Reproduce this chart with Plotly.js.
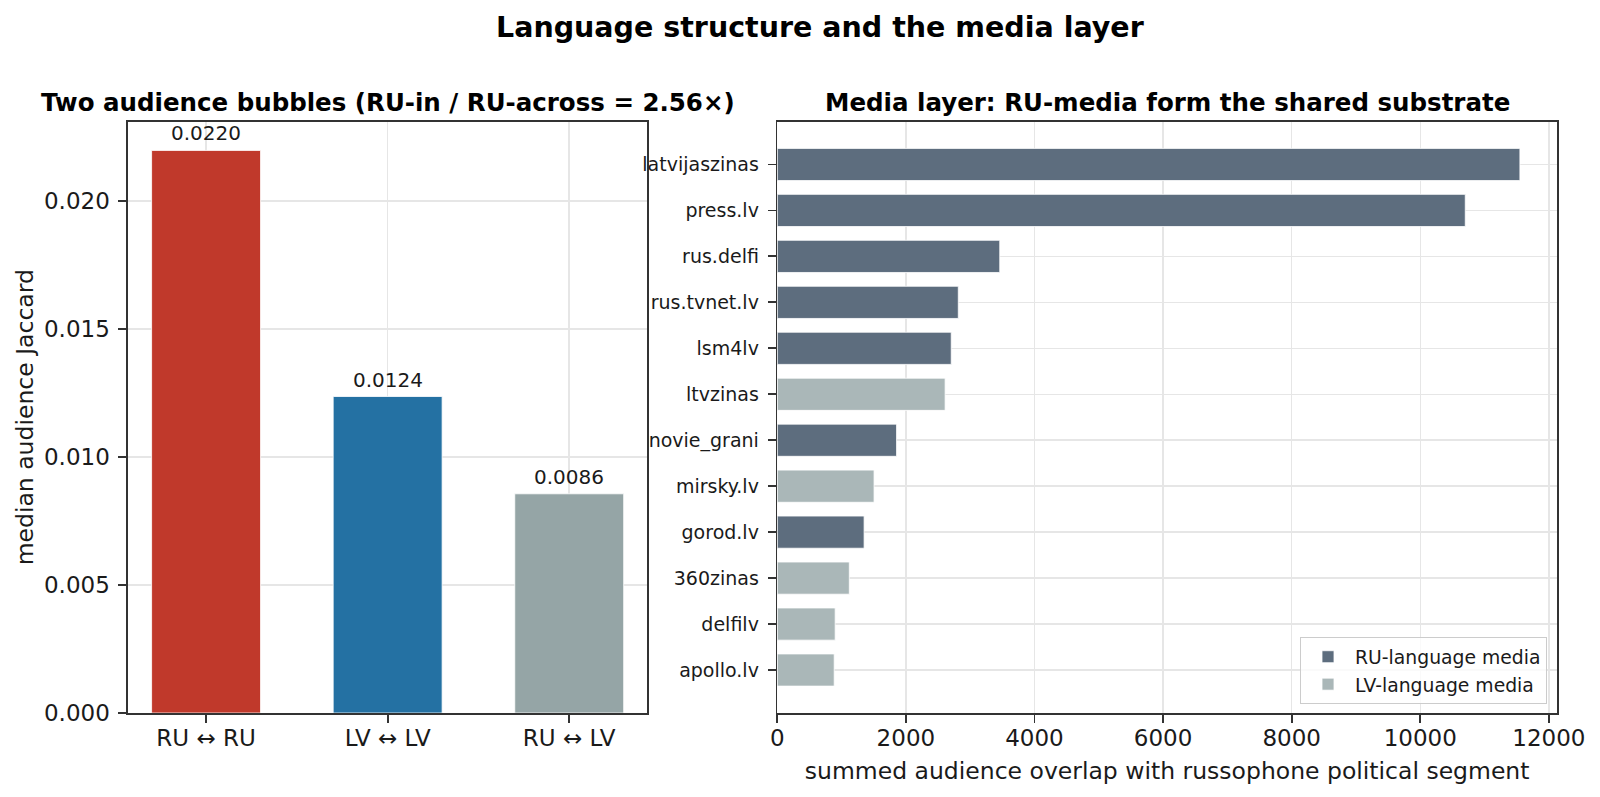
<!DOCTYPE html>
<html>
<head>
<meta charset="utf-8">
<script src="https://cdn.plot.ly/plotly-3.0.1.min.js"></script>
<style>html,body{margin:0;padding:0;background:#fff;}#chart{width:1600px;height:797px;}</style>
</head>
<body>
<div id="chart"></div>
<script>
// ---- data ----
const pairCategories = ['RU ↔ RU', 'LV ↔ LV', 'RU ↔ LV'];
const medianJaccard = [0.02197, 0.01236, 0.00856];

const mediaNames = ['latvijaszinas', 'press.lv', 'rus.delfi', 'rus.tvnet.lv', 'lsm4lv', 'ltvzinas',
                    'novie_grani', 'mirsky.lv', 'gorod.lv', '360zinas', 'delfilv', 'apollo.lv'];
const mediaOverlap = [11550, 10700, 3460, 2815, 2705, 2610, 1855, 1505, 1350, 1120, 900, 885];
const mediaLanguage = ['RU', 'RU', 'RU', 'RU', 'RU', 'LV', 'RU', 'LV', 'RU', 'LV', 'LV', 'LV'];
const languageNames = {RU: 'RU-language media', LV: 'LV-language media'};

// ---- styles ----
const pairColors = ['#c0392b', '#2471a3', '#95a5a6'];
const langColors = {RU: '#5d6d7e', LV: '#aab7b8'};
const FONT = 'DejaVu Sans, sans-serif';
const TXT = '#1a1a1a';
const GRID = '#e6e6e6';
const AX = '#333333';

const W = 1600, H = 797;
const px = v => v / W;
const py = v => 1 - v / H;

const traces = [];
traces.push({
  type: 'bar', x: pairCategories, y: medianJaccard,
  marker: {color: pairColors, line: {color: 'white', width: 0.8}},
  width: 0.6, xaxis: 'x', yaxis: 'y', showlegend: false, hoverinfo: 'x+y'
});
['RU', 'LV'].forEach(lg => {
  const ys = [], xs = [];
  mediaNames.forEach((n, i) => { if (mediaLanguage[i] === lg) { ys.push(n); xs.push(mediaOverlap[i]); } });
  traces.push({
    type: 'bar', orientation: 'h', y: ys, x: xs, name: languageNames[lg],
    marker: {color: langColors[lg], line: {color: 'white', width: 0.8}},
    width: 0.7, xaxis: 'x2', yaxis: 'y2'
  });
});

const annotations = [];
pairCategories.forEach((c, i) => {
  annotations.push({
    x: c, y: medianJaccard[i], xref: 'x', yref: 'y', text: medianJaccard[i].toFixed(4),
    showarrow: false, yanchor: 'bottom', yshift: 3, font: {family: FONT, size: 20, color: TXT}
  });
});
annotations.push({
  xref: 'paper', yref: 'paper', x: px(820), y: py(28), text: '<b>Language structure and the media layer</b>',
  showarrow: false, xanchor: 'center', yanchor: 'middle', font: {family: FONT, size: 28.5, color: '#000'}
});
annotations.push({
  xref: 'paper', yref: 'paper', x: px(387.5), y: py(103), text: '<b>Two audience bubbles (RU-in / RU-across = 2.56×)</b>',
  showarrow: false, xanchor: 'center', yanchor: 'middle', font: {family: FONT, size: 24.5, color: '#000'}
});
annotations.push({
  xref: 'paper', yref: 'paper', x: px(1167), y: py(103), text: '<b>Media layer: RU-media form the shared substrate</b>',
  showarrow: false, xanchor: 'center', yanchor: 'middle', font: {family: FONT, size: 24.5, color: '#000'}
});

const axCommon = {
  showline: true, linecolor: AX, linewidth: 1.8, mirror: true,
  ticks: 'outside', ticklen: 7.8, tickwidth: 1.8, tickcolor: AX,
  showgrid: true, gridcolor: GRID, gridwidth: 1.5, zeroline: false,
  tickfont: {family: FONT, size: 23, color: TXT}
};

const yDom = [py(713), py(121.5)];
const layout = {
  width: W, height: H,
  margin: {l: 0, r: 0, t: 0, b: 0, pad: 0},
  paper_bgcolor: '#fff', plot_bgcolor: '#fff',
  barmode: 'overlay',
  font: {family: FONT, color: TXT},
  showlegend: true,
  legend: {
    x: px(1547), y: py(704), xanchor: 'right', yanchor: 'bottom',
    bgcolor: 'rgba(255,255,255,0.8)', bordercolor: '#cccccc', borderwidth: 1,
    font: {family: FONT, size: 18.8, color: TXT}, traceorder: 'normal', itemwidth: 44
  },
  xaxis: Object.assign({}, axCommon, {
    domain: [px(128), px(647.3)], anchor: 'y', range: [-0.43, 2.43], type: 'category',
    ticklabelstandoff: -4
  }),
  yaxis: Object.assign({}, axCommon, {
    domain: yDom, anchor: 'x', range: [0, 0.0231], dtick: 0.005, tickformat: '.3f',
    ticklabelstandoff: 4,
    title: {text: 'median audience Jaccard', font: {family: FONT, size: 23.5, color: TXT}, standoff: 4}
  }),
  xaxis2: Object.assign({}, axCommon, {
    domain: [px(777.3), px(1557)], anchor: 'y2', range: [0, 12127], dtick: 2000, tickformat: 'd',
    ticklabelstandoff: -4,
    title: {text: 'summed audience overlap with russophone political segment', font: {family: FONT, size: 23.5, color: TXT}, standoff: 12}
  }),
  yaxis2: Object.assign({}, axCommon, {
    domain: yDom, anchor: 'x2', type: 'category', categoryorder: 'array', categoryarray: mediaNames,
    range: [11.935, -0.935], tickfont: {family: FONT, size: 19, color: TXT}, ticklabelstandoff: 5
  }),
  annotations: annotations
};

Plotly.newPlot('chart', traces, layout, {staticPlot: true, displayModeBar: false});
</script>
</body>
</html>
